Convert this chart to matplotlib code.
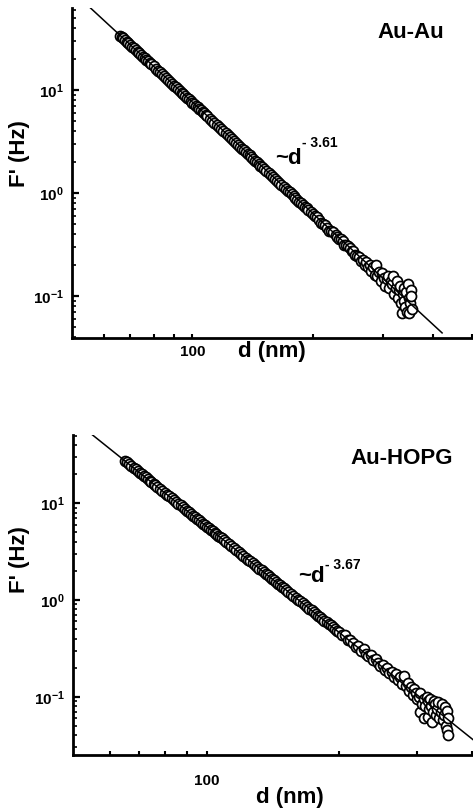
import matplotlib
matplotlib.use('Agg')
import matplotlib.pyplot as plt
import matplotlib.ticker as ticker
import numpy as np

plt.rcParams['font.family'] = ['Liberation Sans', 'DejaVu Sans']
plt.rcParams['font.weight'] = 'bold'
plt.rcParams['mathtext.fontset'] = 'custom'
plt.rcParams['mathtext.rm'] = 'Liberation Sans:bold'
plt.rcParams['mathtext.bf'] = 'Liberation Sans:bold'
plt.rcParams['mathtext.it'] = 'Liberation Sans:bold'

#================ data ================

# Au-Au : d (nm) and F' (Hz)
d_auau = [66, 66.5, 67, 67.8, 68.5, 69.2, 70, 70.7, 71.5, 72.2,
          73, 73.7, 74.5, 75.2, 76, 76.7, 77.5, 78.2, 79, 80,
          81, 82, 83, 84, 85, 86, 87, 88, 89, 90,
          91, 92, 93, 94, 95, 96, 97, 98, 99, 100,
          101, 102, 103, 104, 105, 106, 107, 108, 109, 110.5,
          112, 113.5, 115, 116.5, 118, 119.5, 121, 122.5, 124, 125.5,
          127, 128.5, 130, 131.5, 133, 134.5, 136, 137.5, 139, 140.5,
          142, 143.5, 145, 146.5, 148, 149.5, 151, 153, 155, 157,
          159, 161, 163, 165, 167, 169, 171, 173, 175, 177,
          179, 181, 183, 185, 187, 189, 191, 193, 195, 197.5,
          200, 202.5, 205, 207.5, 210, 212, 215, 217.5, 220, 222.5,
          225, 228, 230, 232.5, 235, 238, 240, 242.5, 245, 248,
          250,
          252, 255, 258, 261, 264, 267, 270, 272, 275, 278,
          280, 283, 286, 288, 290, 293, 296, 298, 301, 303,
          306, 308, 311, 313, 316, 318, 320, 322, 325, 327,
          329, 331, 333, 334, 336, 338, 339, 341, 342, 344,
          345, 347, 348, 350, 351, 353, 354]
f_auau = [33.7, 32.8, 31.9, 30.6, 29.5, 28.4, 27.3, 26.3, 25.3, 24.4,
          23.5, 22.6, 21.8, 21.1, 20.3, 19.6, 18.9, 18.3, 17.7, 16.9,
          16.1, 15.4, 14.8, 14.2, 13.6, 13.0, 12.5, 12.0, 11.5, 11.0,
          10.6, 10.2, 9.80, 9.44, 9.08, 8.75, 8.43, 8.13, 7.83, 7.55,
          7.28, 7.03, 6.79, 6.56, 6.34, 6.12, 5.92, 5.73, 5.53, 5.27,
          5.02, 4.79, 4.57, 4.36, 4.16, 3.97, 3.80, 3.64, 3.48, 3.33,
          3.19, 3.06, 2.94, 2.82, 2.70, 2.60, 2.50, 2.40, 2.31, 2.22,
          2.14, 2.06, 1.98, 1.91, 1.84, 1.77, 1.71, 1.63, 1.56, 1.49,
          1.42, 1.36, 1.30, 1.24, 1.19, 1.14, 1.09, 1.05, 1.01, 0.966,
          0.929, 0.891, 0.857, 0.824, 0.793, 0.764, 0.735, 0.708, 0.682, 0.652,
          0.622, 0.596, 0.58, 0.546, 0.51, 0.50, 0.49, 0.46, 0.43, 0.425,
          0.415, 0.39, 0.37, 0.36, 0.355, 0.34, 0.315, 0.315, 0.305, 0.29,
          0.275,
          0.275, 0.25, 0.245, 0.24, 0.22, 0.225, 0.2, 0.215, 0.19, 0.2,
          0.175, 0.19, 0.16, 0.2, 0.155, 0.17, 0.14, 0.165, 0.15, 0.125,
          0.145, 0.155, 0.12, 0.14, 0.13, 0.155, 0.105, 0.12, 0.14, 0.095,
          0.115, 0.125, 0.085, 0.068, 0.105, 0.12, 0.09, 0.078, 0.11, 0.07,
          0.13, 0.095, 0.068, 0.085, 0.115, 0.1, 0.075]
fit_d_auau = [54.6, 421]
fit_f_auau = [66.8, 0.0437]

# Au-HOPG
d_hopg = [65, 65.7, 66.5, 67.2, 68, 68.7, 69.5, 70.2, 71, 71.7,
          72.5, 73.2, 74, 74.7, 75.5, 76.2, 77, 78, 79, 80,
          81, 82, 83, 84, 85, 86, 87, 88, 89, 90,
          91, 92, 93, 94, 95, 96, 97, 98, 99, 100,
          101, 102, 103, 104, 105, 106, 107, 108, 109, 110.5,
          112, 113.5, 115, 116.5, 118, 119.5, 121, 122.5, 124, 125.5,
          127, 128.5, 130, 131.5, 133, 134.5, 136, 137.5, 139, 140.5,
          142, 143.5, 145, 146.5, 148, 149.5, 151, 153, 155, 157,
          159, 161, 163, 165, 167, 169, 171, 173, 175, 177,
          179, 181, 183, 185, 187, 189, 191, 193, 195, 197.5,
          200, 203, 206, 209, 212, 215, 218, 221, 224, 227,
          230, 233, 236, 239, 242, 245, 248, 251, 254, 257,
          260, 263, 266, 269, 272, 275, 278, 280, 283, 286,
          288, 291, 294, 296, 299, 301, 304, 305, 306, 309,
          311, 312, 314, 316, 318, 318, 320, 322, 324, 325,
          326, 328, 330, 332, 334, 336, 338, 340, 342, 344,
          346, 348, 350, 351, 352, 353, 354]
f_hopg = [27.5, 26.4, 25.3, 24.3, 23.3, 22.4, 21.5, 20.7, 19.9, 19.2,
          18.5, 17.8, 17.1, 16.6, 15.9, 15.4, 14.8, 14.2, 13.5, 12.9,
          12.3, 11.8, 11.3, 10.8, 10.35, 9.91, 9.51, 9.12, 8.75, 8.41,
          8.07, 7.76, 7.46, 7.18, 6.90, 6.64, 6.40, 6.17, 5.94, 5.73,
          5.52, 5.33, 5.14, 4.97, 4.80, 4.63, 4.48, 4.33, 4.19, 3.98,
          3.79, 3.61, 3.44, 3.29, 3.13, 2.99, 2.86, 2.74, 2.62, 2.51,
          2.40, 2.30, 2.20, 2.11, 2.03, 1.95, 1.87, 1.80, 1.73, 1.66,
          1.60, 1.54, 1.48, 1.43, 1.37, 1.32, 1.28, 1.22, 1.16, 1.11,
          1.06, 1.01, 0.968, 0.925, 0.885, 0.848, 0.813, 0.780, 0.747, 0.716,
          0.687, 0.661, 0.634, 0.610, 0.587, 0.565, 0.55, 0.523, 0.50, 0.481,
          0.47, 0.43, 0.44, 0.39, 0.385, 0.36, 0.33, 0.335, 0.30, 0.31,
          0.28, 0.265, 0.27, 0.24, 0.245, 0.225, 0.21, 0.215, 0.19, 0.2,
          0.175, 0.18, 0.16, 0.17, 0.15, 0.16, 0.135, 0.165, 0.13, 0.14,
          0.115, 0.125, 0.105, 0.12, 0.11, 0.095, 0.1, 0.07, 0.11, 0.085,
          0.095, 0.06, 0.08, 0.1, 0.09, 0.062, 0.075, 0.095, 0.08, 0.055,
          0.07, 0.09, 0.085, 0.065, 0.075, 0.088, 0.06, 0.07, 0.085, 0.058,
          0.065, 0.078, 0.05, 0.072, 0.045, 0.06, 0.04]
fit_d_hopg = [54.1, 420]
fit_f_hopg = [53.4, 0.031]

x_major = [100]
x_minor = [60, 70, 80, 90, 200, 300, 400, 500]

#================ figure ================
W, H = 473, 810
fig = plt.figure(figsize=(W / 100, H / 100), dpi=100)


def fx(x):
    return x / W


def fy(y):
    return 1 - y / H


def panel(left, top, right, bottom, d, f, fd, ff, xlim, ylim, xpad):
    ax = fig.add_axes([fx(left), fy(bottom), fx(right) - fx(left), fy(top) - fy(bottom)])
    ax.set_xscale('log')
    ax.set_yscale('log')
    ax.plot(d, f, 'o', ms=7.2, mfc='white', mec='black', mew=1.25, zorder=2, clip_on=False)
    ax.plot(fd, ff, '-', color='black', lw=1.1, zorder=3)
    ax.set_xlim(xlim)
    ax.set_ylim(ylim)
    for s in ['top', 'right']:
        ax.spines[s].set_visible(False)
    for s in ['left', 'bottom']:
        ax.spines[s].set_linewidth(2.0)
    ax.xaxis.set_major_locator(ticker.FixedLocator(x_major))
    ax.xaxis.set_minor_locator(ticker.FixedLocator(x_minor))
    ax.xaxis.set_major_formatter(ticker.FuncFormatter(lambda v, p: '%d' % v))
    ax.xaxis.set_minor_formatter(ticker.NullFormatter())
    ax.yaxis.set_major_locator(ticker.LogLocator(base=10))
    ax.yaxis.set_minor_locator(ticker.LogLocator(base=10, subs=np.arange(2, 10)))
    ax.yaxis.set_major_formatter(ticker.FuncFormatter(
        lambda v, p: r'$\mathbf{10^{%d}}$' % int(round(np.log10(v)))))
    ax.yaxis.set_minor_formatter(ticker.NullFormatter())
    ax.tick_params(axis='y', which='major', direction='in', length=5, width=1.6,
                   labelsize=11, pad=6)
    ax.tick_params(axis='y', which='minor', direction='in', length=3, width=1.2)
    ax.tick_params(axis='x', which='both', direction='in', length=3, width=1.5,
                   labelsize=11, pad=xpad)
    return ax


ax1 = panel(72, 8, 473, 338, d_auau, f_auau, fit_d_auau, fit_f_auau,
            (50, 503), (0.039, 62.5), 5)
ax2 = panel(73, 435, 473, 755, d_hopg, f_hopg, fit_d_hopg, fit_f_hopg,
            (49.5, 403), (0.025, 50.8), 14)

# labels
fig.text(fx(20), fy(154), "F' (Hz)", rotation=90, ha='center', va='center', fontsize=16)
fig.text(fx(272), fy(352), 'd (nm)', ha='center', va='center', fontsize=16)
fig.text(fx(411), fy(33), 'Au-Au', ha='center', va='center', fontsize=16)
fig.text(fx(275), fy(158), '~d', ha='left', va='center', fontsize=16)
fig.text(fx(302), fy(143), '- 3.61', ha='left', va='center', fontsize=10)

fig.text(fx(20), fy(560), "F' (Hz)", rotation=90, ha='center', va='center', fontsize=16)
fig.text(fx(290), fy(797), 'd (nm)', ha='center', va='center', fontsize=16)
fig.text(fx(402), fy(458), 'Au-HOPG', ha='center', va='center', fontsize=16)
fig.text(fx(298), fy(577), '~d', ha='left', va='center', fontsize=16)
fig.text(fx(325), fy(565), '- 3.67', ha='left', va='center', fontsize=10)

fig.savefig('out.png', dpi=100)
